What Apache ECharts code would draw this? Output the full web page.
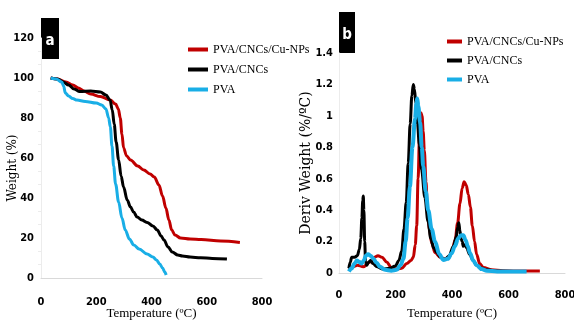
<!DOCTYPE html>
<html>
<head>
<meta charset="utf-8">
<script src="https://cdn.jsdelivr.net/npm/echarts@6/dist/echarts.min.js"></script>
<style>html,body{margin:0;padding:0;background:#fff;}#c{width:574px;height:320px;}</style>
</head>
<body>
<div id="c"></div>
<script>
// ---------- DATA ----------
const seriesNames = ['PVA/CNCs/Cu-NPs', 'PVA/CNCs', 'PVA'];
const xTicks = [0, 200, 400, 600, 800];

// TGA (panel a): [temperature °C, weight %]
const tgaCuNPs = [[35,100],[60,99.5],[90,98],[115,96.5],[135,95],[155,93.5],[180,92],[215,90.7],[250,89],[270,87],[280,84.5],[287,80],[293,72],[299,65],[310,61],[324,59],[350,56],[372,54],[395,52],[410,50.5],[427,46.5],[440,41],[452,35],[463,29],[473,24],[485,21.5],[505,20],[540,19.5],[580,19.2],[650,18.5],[720,17.8]];
const tgaCNCs = [[35,100],[60,99.5],[80,98],[100,96.5],[120,94.5],[140,93.2],[180,93.5],[215,93],[235,91.5],[250,89],[258,84],[265,77],[272,68],[281,59],[290,51],[299,45.5],[312,39],[324,35.5],[335,33],[348,30.5],[365,29],[384,27.8],[405,26],[421,24],[435,21],[445,19],[460,15.5],[475,13],[495,11.5],[512,11],[540,10.5],[578,10.1],[620,9.8],[673,9.5]];
const tgaPVA = [[35,100],[55,99.5],[75,98],[82,96],[88,92.5],[100,91],[115,89.7],[130,89],[160,88.3],[200,87.5],[220,86.5],[235,84.5],[245,80],[251,75.5],[257,66],[263,56],[270,47],[281,38],[293,30],[305,24],[320,19.5],[336,16.5],[355,14.5],[384,12],[405,10.5],[418,9],[430,7],[440,5],[448,3],[453,1.5]];

// DTG (panel b): [temperature °C, deriv weight %/°C]
const dtgCuNPs = [[35,0.02],[50,0.04],[65,0.05],[86,0.04],[110,0.07],[125,0.1],[138,0.11],[152,0.1],[169,0.07],[185,0.035],[200,0.025],[222,0.03],[240,0.06],[255,0.08],[263,0.1],[270,0.18],[275,0.3],[280,0.6],[285,0.87],[290,1.02],[294,1.0],[298,0.9],[302,0.78],[308,0.58],[313,0.4],[320,0.28],[328,0.19],[340,0.13],[358,0.1],[375,0.09],[390,0.1],[400,0.14],[411,0.21],[420,0.32],[428,0.44],[436,0.54],[443,0.58],[450,0.56],[458,0.5],[465,0.42],[472,0.3],[480,0.2],[487,0.12],[498,0.06],[511,0.035],[540,0.02],[580,0.015],[650,0.012],[711,0.012]];
const dtgCNCs = [[35,0.03],[40,0.07],[45,0.1],[55,0.1],[65,0.11],[72,0.15],[77,0.22],[81,0.35],[84,0.46],[86,0.49],[88,0.4],[91,0.2],[94,0.07],[98,0.05],[105,0.07],[112,0.08],[120,0.06],[135,0.04],[155,0.025],[180,0.03],[200,0.045],[212,0.08],[222,0.14],[230,0.28],[238,0.45],[245,0.7],[252,0.95],[258,1.13],[263,1.2],[267,1.17],[272,1.08],[278,0.95],[284,0.82],[292,0.66],[304,0.48],[315,0.33],[325,0.22],[335,0.16],[346,0.13],[360,0.1],[375,0.085],[390,0.11],[405,0.17],[415,0.23],[420,0.29],[424,0.32],[428,0.27],[432,0.22],[436,0.2],[440,0.17],[446,0.18],[452,0.16],[462,0.12],[475,0.08],[487,0.05],[505,0.03],[523,0.02],[560,0.012],[620,0.01],[660,0.01]];
const dtgPVA = [[35,0.01],[45,0.03],[55,0.06],[63,0.08],[72,0.07],[80,0.06],[88,0.08],[95,0.11],[103,0.12],[112,0.11],[122,0.09],[133,0.065],[145,0.04],[163,0.02],[185,0.015],[204,0.02],[218,0.05],[228,0.09],[236,0.2],[243,0.35],[251,0.55],[260,0.8],[269,0.98],[274,1.08],[277,1.11],[281,1.06],[287,0.96],[293,0.8],[298,0.68],[307,0.52],[316,0.4],[328,0.28],[340,0.2],[355,0.12],[369,0.083],[385,0.09],[399,0.125],[410,0.17],[422,0.22],[432,0.24],[440,0.24],[448,0.21],[456,0.17],[464,0.125],[475,0.08],[487,0.05],[505,0.025],[523,0.015],[560,0.01],[620,0.01],[664,0.01]];

// ---------- STYLE ----------
const colors = ['#c00000', '#000000', '#19aee6'];
const numFont = "'Liberation Sans Narrow','DejaVu Sans Condensed','Liberation Sans',sans-serif";
const serif = "'Liberation Serif','DejaVu Serif',serif";
const axisGray = '#d9d9d9';

function xAxis(gridIndex, labelMargin, nameGap) {
  return {
    gridIndex, type: 'value', min: xTicks[0], max: xTicks[xTicks.length - 1], interval: 200,
    name: 'Temperature (ºC)', nameLocation: 'middle', nameGap, nameMoveOverlap: false,
    nameTextStyle: { fontFamily: serif, fontSize: 13, color: '#000' },
    axisLine: { show: true, lineStyle: { color: axisGray, width: 1 } },
    axisTick: { show: false }, splitLine: { show: false },
    axisLabel: { margin: labelMargin, fontFamily: numFont, fontWeight: 'bold', fontSize: 11, color: '#000' }
  };
}

function mkSeries(data, i, xi, width) {
  return {
    name: seriesNames[i], type: 'line', xAxisIndex: xi, yAxisIndex: xi,
    data, showSymbol: false, smooth: 0.35, smoothMonotone: 'x',
    lineStyle: { color: colors[i], width }, itemStyle: { color: colors[i] }
  };
}

function legend(left, top, w, gap) {
  return {
    data: seriesNames, orient: 'vertical', left, top, itemWidth: w, itemHeight: 4, itemGap: gap,
    icon: 'rect', selectedMode: false,
    textStyle: { fontFamily: serif, fontSize: 12, color: '#000', lineHeight: 15 }
  };
}

function tag(x, y, w, h, t) {
  return {
    type: 'group', left: x, top: y, children: [
      { type: 'rect', shape: { x: 0, y: 0, width: w, height: h }, style: { fill: '#000' } },
      { type: 'text', x: w / 2, y: h / 2 + 3, style: { text: t, fill: '#fff', font: "bold 15px " + numFont, textAlign: 'center', textVerticalAlign: 'middle' } }
    ]
  };
}

const chart = echarts.init(document.getElementById('c'), null, { renderer: 'canvas' });
chart.setOption({
  backgroundColor: '#fff',
  animation: false,
  grid: [
    { left: 41, top: 38, width: 221, height: 240, outerBoundsMode: 'none', containLabel: false },
    { left: 339, top: 53, width: 226, height: 220, outerBoundsMode: 'none', containLabel: false }
  ],
  xAxis: [xAxis(0, 19, 29), xAxis(1, 17, 34)],
  yAxis: [
    {
      gridIndex: 0, type: 'value', min: 0, max: 120, interval: 20,
      name: 'Weight (%)', nameLocation: 'middle', nameGap: 22, nameRotate: 90, nameMoveOverlap: false,
      nameTextStyle: { fontFamily: "'DejaVu Serif',serif", fontSize: 12, color: '#000', padding: [0, 20, 0, 0] },
      axisLine: { show: true, lineStyle: { color: '#ececec' } },
      axisTick: { show: false }, minorTick: { show: true, splitNumber: 3, length: 3, lineStyle: { color: '#ececec' } },
      splitLine: { show: false },
      axisLabel: { margin: 7, fontFamily: numFont, fontWeight: 'bold', fontSize: 11, color: '#000' }
    },
    {
      gridIndex: 1, type: 'value', min: 0, max: 1.4, interval: 0.2,
      name: 'Deriv Weight (%/ºC)', nameLocation: 'middle', nameGap: 26, nameRotate: 90, nameMoveOverlap: false,
      nameTextStyle: { fontFamily: "'DejaVu Serif',serif", fontSize: 14, color: '#000' },
      axisLine: { show: true, lineStyle: { color: '#ececec' } },
      axisTick: { show: false }, splitLine: { show: false },
      axisLabel: { margin: 6, fontFamily: numFont, fontWeight: 'bold', fontSize: 11, color: '#000' }
    }
  ],
  legend: [legend(183, 37, 20, 5), legend(442, 29, 15, 4)],
  graphic: [tag(41, 18, 18, 41, 'a'), tag(339, 12, 16, 41, 'b')],
  series: [
    mkSeries(tgaCuNPs, 0, 0, 3), mkSeries(tgaCNCs, 1, 0, 3), mkSeries(tgaPVA, 2, 0, 3),
    mkSeries(dtgCuNPs, 0, 1, 3), mkSeries(dtgCNCs, 1, 1, 3), mkSeries(dtgPVA, 2, 1, 4)
  ]
});
</script>
</body>
</html>
